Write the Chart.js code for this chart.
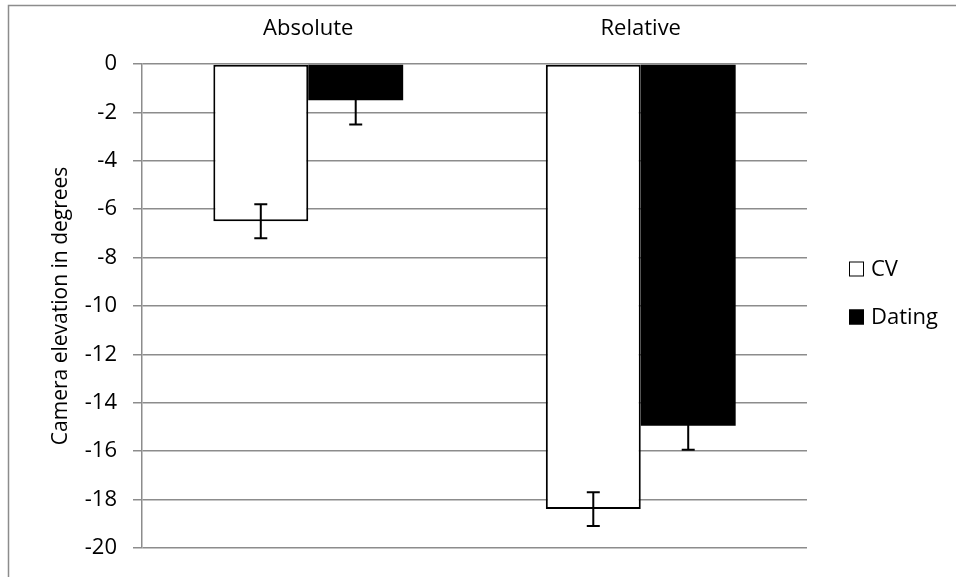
<!DOCTYPE html>
<html>
<head>
<meta charset="utf-8">
<script src="https://cdn.jsdelivr.net/npm/chart.js@4"></script>
<style>
  html, body { margin: 0; padding: 0; background: #fff; }
  #wrap { width: 956px; height: 577px; position: relative; }
</style>
</head>
<body>
<div id="wrap"><canvas id="elevation-chart"></canvas></div>
<script>
'use strict';

const categories = ['Absolute', 'Relative'];
const series_names = ['CV', 'Dating'];
const cv_values = [-6.5, -18.4];
const cv_errors = [0.7, 0.7];
const dating_values = [-1.5, -14.95];
const dating_errors = [1.0, 1.0];
const y_ticks = [0, -2, -4, -6, -8, -10, -12, -14, -16, -18, -20];

const FONT = "'Open Sans', 'Liberation Sans', sans-serif";
const GRID = '#8c8c8c';

const error_lists = [cv_errors, dating_errors];

// frame round the whole chart, as in the spreadsheet export
const frame_plugin = {
    id: 'frame',
    beforeDraw(chart) {
        const ctx = chart.ctx;
        ctx.save();
        ctx.fillStyle = '#fff';
        ctx.fillRect(0, 0, chart.width, chart.height);
        ctx.strokeStyle = GRID;
        ctx.lineWidth = 1.5;
        ctx.strokeRect(8.5, 5.5, chart.width + 20, chart.height + 20);
        ctx.restore();
    }
};

const error_bar_plugin = {
    id: 'errorBars',
    afterDatasetsDraw(chart) {
        const ctx = chart.ctx;
        const y = chart.scales.y;
        ctx.save();
        ctx.strokeStyle = '#000';
        ctx.lineWidth = 2;
        chart.data.datasets.forEach((ds, i) => {
            const meta = chart.getDatasetMeta(i);
            meta.data.forEach((bar, j) => {
                const v = ds.data[j];
                const e = error_lists[i][j];
                const top = y.getPixelForValue(v + e);
                const bottom = y.getPixelForValue(v - e);
                ctx.beginPath();
                ctx.moveTo(bar.x, top);
                ctx.lineTo(bar.x, bottom);
                ctx.moveTo(bar.x - 6.5, top);
                ctx.lineTo(bar.x + 6.5, top);
                ctx.moveTo(bar.x - 6.5, bottom);
                ctx.lineTo(bar.x + 6.5, bottom);
                ctx.stroke();
            });
        });
        ctx.restore();
    }
};

const legend_plugin = {
    id: 'sideLegend',
    afterDraw(chart) {
        const ctx = chart.ctx;
        const x = chart.chartArea.right + 42;
        ctx.save();
        ctx.font = `22px ${FONT}`;
        ctx.textBaseline = 'middle';
        chart.data.datasets.forEach((ds, i) => {
            const cy = 269 + i * 48;
            ctx.fillStyle = ds.backgroundColor;
            ctx.fillRect(x, cy - 7.5, 15, 15);
            ctx.strokeStyle = '#000';
            ctx.lineWidth = 1;
            ctx.strokeRect(x + 0.5, cy - 7, 14, 14);
            ctx.fillStyle = '#000';
            ctx.fillText(ds.label, x + 22, cy + 1);
        });
        ctx.restore();
    }
};

new Chart(document.getElementById('elevation-chart'), {
    type: 'bar',
    data: {
        labels: categories,
        datasets: [
            {
                label: series_names[0],
                data: cv_values,
                backgroundColor: '#ffffff',
                borderColor: '#000000',
                borderWidth: 2,
                borderSkipped: false
            },
            {
                label: series_names[1],
                data: dating_values,
                backgroundColor: '#000000',
                borderColor: '#000000',
                borderWidth: 0,
                borderSkipped: false
            }
        ]
    },
    plugins: [frame_plugin, error_bar_plugin, legend_plugin],
    options: {
        responsive: true,
        maintainAspectRatio: false,
        animation: false,
        layout: {
            padding: { left: 30, right: 149, top: 0, bottom: 23 }
        },
        datasets: {
            bar: {
                barPercentage: 1,
                categoryPercentage: 0.571
            }
        },
        plugins: {
            legend: { display: false },
            tooltip: { enabled: false }
        },
        scales: {
            x: {
                position: 'top',
                grid: { display: false },
                border: { display: false },
                ticks: {
                    color: '#000',
                    padding: 14,
                    font: { family: FONT, size: 22 }
                },
                afterFit(scale) { scale.height = 64; }
            },
            y: {
                min: -20,
                max: 0,
                afterBuildTicks(scale) {
                    scale.ticks = y_ticks.map(v => ({ value: v }));
                },
                grid: {
                    color: GRID,
                    lineWidth: 1.5,
                    tickLength: 9
                },
                border: { color: GRID, width: 1.5 },
                ticks: {
                    color: '#000',
                    padding: 16,
                    font: { family: FONT, size: 22 }
                },
                title: {
                    display: true,
                    text: 'Camera elevation in degrees',
                    color: '#000',
                    padding: { top: 18, bottom: 0 },
                    font: { family: FONT, size: 21 }
                },
                afterFit(scale) { scale.width = 112; }
            }
        }
    }
});
</script>
</body>
</html>
